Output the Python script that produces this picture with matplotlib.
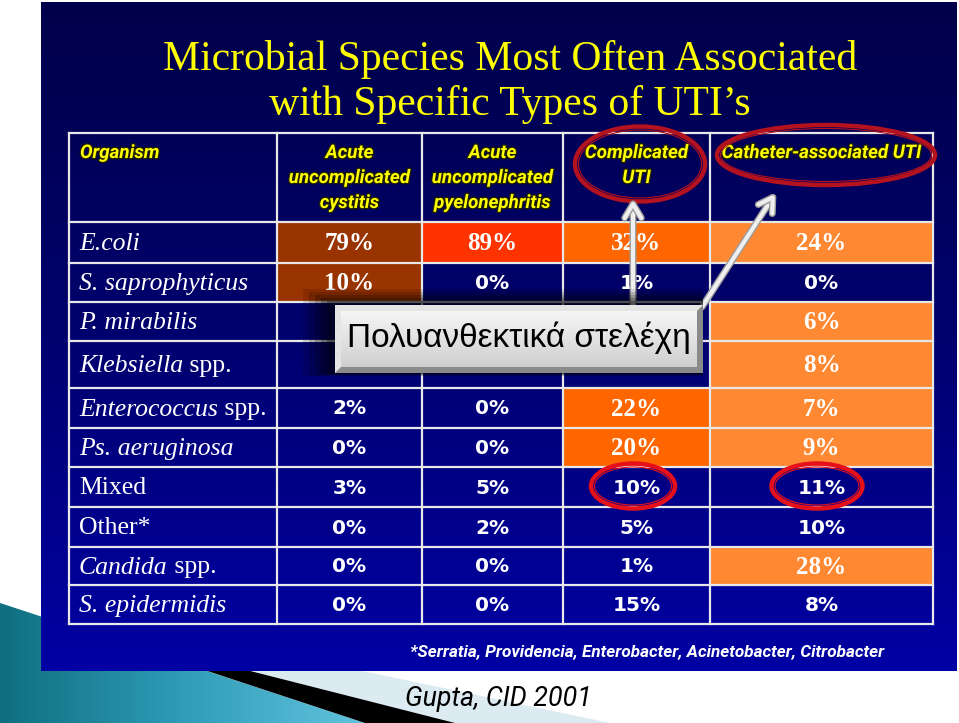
import numpy as np
import matplotlib
matplotlib.use("Agg")
import matplotlib.pyplot as plt
from matplotlib.patches import Rectangle, Ellipse, Polygon
import matplotlib.patheffects as pe

# table data
organisms = ["E.coli", "S. saprophyticus", "P. mirabilis", "Klebsiella", "Enterococcus",
             "Ps. aeruginosa", "", "", "Candida", "S. epidermidis"]
organism_suffix = ["", "", "", " spp.", " spp.", "", "Mixed", "Other*", " spp.", ""]
columns = ["Acute\nuncomplicated\ncystitis", "Acute\nuncomplicated\npyelonephritis",
           "Complicated\nUTI", "Catheter-associated UTI"]
cystitis = ["79%", "10%", "", "", "2%", "0%", "3%", "0%", "0%", "0%"]
pyelonephritis = ["89%", "0%", "", "", "0%", "0%", "5%", "2%", "0%", "0%"]
complicated = ["32%", "1%", "", "", "22%", "20%", "10%", "5%", "1%", "15%"]
catheter = ["24%", "0%", "6%", "8%", "7%", "9%", "11%", "10%", "28%", "8%"]
# highlighted cells (None = plain blue)
hl_cystitis = ["#993300", "#993300", None, None, None, None, None, None, None, None]
hl_pyelo = ["#FF3300", None, None, None, None, None, None, None, None, None]
hl_complicated = ["#FF6600", None, None, None, "#FF6600", "#FF6600", None, None, None, None]
hl_catheter = ["#FF8833", None, "#FF8833", "#FF8833", "#FF8833", "#FF8833", None, None, "#FF8833", None]

title = "Microbial Species Most Often Associated\nwith Specific Types of UTI\u2019s"
popup = "Πολυανθεκτικά στελέχη"
footnote = "*Serratia, Providencia, Enterobacter, Acinetobacter, Citrobacter"
source = "Gupta, CID 2001"

narrow = "Roboto"

W, H = 959, 723
fig = plt.figure(figsize=(W / 100, H / 100), dpi=100)
ax = fig.add_axes([0, 0, 1, 1])
ax.set_xlim(0, W)
ax.set_ylim(H, 0)
ax.axis("off")

# bottom-left decoration
teal = Polygon([(0, 603), (365, 723), (0, 723)], closed=True, facecolor="none", edgecolor="none")
ax.add_patch(teal)
grad = np.linspace(0, 1, 256).reshape(1, -1)
cmap = matplotlib.colors.LinearSegmentedColormap.from_list("teal", ["#0F6F80", "#2F9CB8", "#62C4DE"])
im = ax.imshow(grad, extent=(0, 365, 723, 600), cmap=cmap, aspect="auto", zorder=1)
im.set_clip_path(teal)
ax.add_patch(Polygon([(207, 660), (455, 723), (610, 723), (310, 660)], closed=True,
                     facecolor="#DCEAF1", edgecolor="none", zorder=1))
ax.add_patch(Polygon([(174, 660), (365, 723), (455, 723), (207, 660)], closed=True,
                     facecolor="black", edgecolor="none", zorder=2))

# blue panel with vertical gradient
pcmap = matplotlib.colors.LinearSegmentedColormap.from_list("panel", ["#00004A", "#00006E", "#0000A4"])
ax.imshow(np.linspace(0, 1, 256).reshape(-1, 1), extent=(41, 957, 671, 2), cmap=pcmap,
          aspect="auto", zorder=3)

ax.text(510, 82, title, ha="center", va="center", color="#FFFF00", fontsize=30,
        family="Liberation Serif", linespacing=1.22, zorder=5)

# table geometry
col_edges = [69, 277, 422, 563, 710, 933]
row_edges = [133, 222, 263, 302, 341, 388, 428, 467, 507, 547, 585, 624]
values = [cystitis, pyelonephritis, complicated, catheter]
highlights = [hl_cystitis, hl_pyelo, hl_complicated, hl_catheter]

for c in range(4):
    x0, x1 = col_edges[c + 1], col_edges[c + 2]
    for r in range(len(organisms)):
        y0, y1 = row_edges[r + 1], row_edges[r + 2]
        col = highlights[c][r]
        if col:
            ax.add_patch(Rectangle((x0, y0), x1 - x0, y1 - y0, facecolor=col, edgecolor="none", zorder=4))
            ax.text((x0 + x1) / 2, (y0 + y1) / 2 + 1, values[c][r], ha="center", va="center",
                    color="white", fontsize=18, fontweight="bold", family="Liberation Serif", zorder=6)
        elif values[c][r]:
            ax.text((x0 + x1) / 2, (y0 + y1) / 2 + 1, values[c][r], ha="center", va="center",
                    color="white", fontsize=14.5, fontweight="bold", family="DejaVu Sans", zorder=6)

for y in row_edges:
    ax.plot([col_edges[0], col_edges[-1]], [y, y], color="#E8E8E8", lw=1.6, zorder=5)
for x in col_edges:
    ax.plot([x, x], [row_edges[0], row_edges[-1]], color="#E8E8E8", lw=1.6, zorder=5)

# organism labels (italic genus, upright suffix)
for r in range(len(organisms)):
    yc = (row_edges[r + 1] + row_edges[r + 2]) / 2 + 1.5
    if not organisms[r]:
        ax.text(79, yc, organism_suffix[r], ha="left", va="center", color="white", fontsize=18.5,
                family="Liberation Serif", zorder=6)
        continue
    t = ax.text(79, yc, organisms[r], ha="left", va="center", color="white", fontsize=18.5,
                style="italic", family="Liberation Serif", zorder=6)
    if organism_suffix[r]:
        ax.annotate(organism_suffix[r], xy=(1, 0), xycoords=t, ha="left", va="bottom",
                    color="white", fontsize=18.5, family="Liberation Serif", zorder=6)

# header
hdr_fx = [pe.withStroke(linewidth=1.8, foreground="#202000")]
ax.text(80, 153, "Organism", ha="left", va="center", color="#FFFF00", fontsize=13.5,
        fontweight="bold", style="italic", family=narrow, path_effects=hdr_fx, zorder=6)
for c in range(4):
    xc = (col_edges[c + 1] + col_edges[c + 2]) / 2
    ax.text(xc, 144, columns[c], ha="center", va="top", color="#FFFF00", fontsize=13.5,
            fontweight="bold", style="italic", family=narrow, linespacing=1.5,
            path_effects=hdr_fx, zorder=6)

# red ellipses
for (cx, cy, w, h, colr) in [(640, 164, 130, 75, "#B3121E"), (826, 155, 218, 60, "#B3121E"),
                             (633, 486, 84, 45, "#E5101A"), (817, 486, 91, 45, "#E5101A")]:
    ax.add_patch(Ellipse((cx, cy), w, h, fill=False, edgecolor=colr, lw=3.2, zorder=7))
    ax.add_patch(Ellipse((cx, cy), w - 7, h - 7, fill=False, edgecolor=colr, lw=0.8, zorder=7))

# arrows from the popup to the headers
arrow_fx = [pe.withStroke(linewidth=5, foreground="#9A9A9A")]
for start, tip in [((633, 305), (633, 200)), ((702, 307), (775, 194))]:
    ax.annotate("", xy=tip, xytext=start, zorder=8,
                arrowprops=dict(arrowstyle="->,head_length=1.0,head_width=0.6", lw=3,
                                color="#EFEFEF", shrinkA=0, shrinkB=0, path_effects=arrow_fx))

# popup box with soft shadow
for i, a in enumerate([0.12, 0.15, 0.18, 0.22, 0.28]):
    d = 32 - i * 6
    ax.add_patch(Rectangle((335 - d, 305 - d * 0.5), 368 + d, 68 + d * 0.6, facecolor="black",
                           edgecolor="none", alpha=a, zorder=8))
ax.add_patch(Rectangle((335, 305), 368, 68, facecolor="#8A8A8A", edgecolor="none", zorder=9))
ax.add_patch(Polygon([(335, 305), (703, 305), (697, 311), (341, 311), (341, 367), (335, 373)],
                     closed=True, facecolor="#E4E4E4", edgecolor="none", zorder=9))
bcmap = matplotlib.colors.LinearSegmentedColormap.from_list("btn", ["#F6F6F6", "#E2E2E2", "#CFCFCF"])
ax.imshow(np.linspace(0, 1, 64).reshape(-1, 1), extent=(341, 697, 367, 311), cmap=bcmap,
          aspect="auto", zorder=9)
ax.text(519, 338, popup, ha="center", va="center", color="black", fontsize=24,
        family=["Liberation Sans", "DejaVu Sans"], zorder=10)

ax.text(884, 652, footnote, ha="right", va="center", color="white", fontsize=12.3,
        fontweight="bold", style="italic", family=narrow, zorder=6)
ax.text(405, 699, source, ha="left", va="center", color="black", fontsize=19.3,
        style="italic", family=narrow, zorder=6)

fig.savefig("out.png", dpi=100, facecolor="white")
